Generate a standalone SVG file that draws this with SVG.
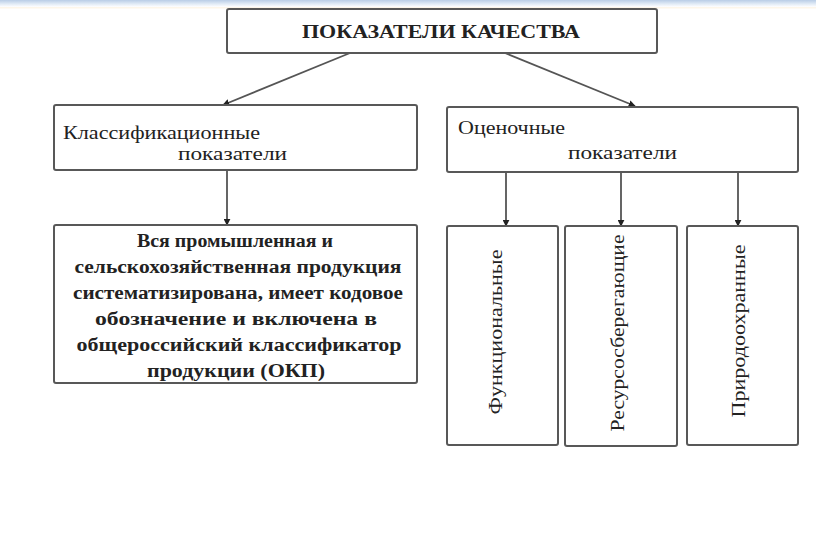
<svg xmlns="http://www.w3.org/2000/svg" width="816" height="541" viewBox="0 0 816 541">
<style>
.box{fill:#fff;stroke:#585858;stroke-width:2}
.con{stroke:#555;stroke-width:1.8;fill:none}
.t{font-family:"Liberation Serif","DejaVu Serif",serif;fill:#222;font-size:18px}
.b{font-weight:bold}
</style>
<defs>
<linearGradient id="band" x1="0" y1="0" x2="0" y2="1">
<stop offset="0" stop-color="#b9cde6"/>
<stop offset="0.6" stop-color="#e4edf7"/>
<stop offset="1" stop-color="#ffffff"/>
</linearGradient>
<marker id="ah" viewBox="0 0 10 10" refX="9" refY="5" markerWidth="7" markerHeight="7" orient="auto" markerUnits="userSpaceOnUse">
<path d="M0,0 L10,5 L0,10 z" fill="#222"/>
</marker>
</defs>
<rect x="0" y="0" width="816" height="541" fill="#fff"/>
<rect x="0" y="0" width="816" height="7" fill="url(#band)"/>
<rect x="0" y="7" width="816" height="1.5" fill="#fdf6ea"/>

<g id="connectors">
<line class="con" x1="350" y1="53" x2="223" y2="105" marker-end="url(#ah)"/>
<line class="con" x1="505" y1="53" x2="635" y2="106" marker-end="url(#ah)"/>
<line class="con" x1="227" y1="170" x2="227" y2="225" marker-end="url(#ah)"/>
<line class="con" x1="506" y1="172" x2="506" y2="226" marker-end="url(#ah)"/>
<line class="con" x1="621" y1="172" x2="621" y2="226" marker-end="url(#ah)"/>
<line class="con" x1="738" y1="172" x2="738" y2="226" marker-end="url(#ah)"/>
</g>

<g id="top">
<rect class="box" x="227" y="9" width="430" height="44" rx="2"/>
<text class="t b" x="441" y="38" text-anchor="middle" font-size="20" fill="#111" textLength="278" lengthAdjust="spacingAndGlyphs">ПОКАЗАТЕЛИ КАЧЕСТВА</text>
</g>

<g id="classif">
<rect class="box" x="54" y="105" width="363" height="65" rx="2"/>
<text class="t" x="63" y="139" textLength="197" lengthAdjust="spacingAndGlyphs">Классификационные</text>
<text class="t" x="178" y="160" textLength="109" lengthAdjust="spacingAndGlyphs">показатели</text>
</g>

<g id="ocen">
<rect class="box" x="447" y="107" width="351" height="65" rx="2"/>
<text class="t" x="458" y="134" textLength="107" lengthAdjust="spacingAndGlyphs">Оценочные</text>
<text class="t" x="568" y="159" textLength="109" lengthAdjust="spacingAndGlyphs">показатели</text>
</g>

<g id="okp">
<rect class="box" x="54" y="225" width="363" height="158" rx="2"/>
<g class="t b" text-anchor="middle" font-size="19">
<text x="235" y="247" textLength="196" lengthAdjust="spacingAndGlyphs">Вся промышленная и</text>
<text x="238" y="273" textLength="327" lengthAdjust="spacingAndGlyphs">сельскохозяйственная продукция</text>
<text x="238" y="299" textLength="330" lengthAdjust="spacingAndGlyphs">систематизирована, имеет кодовое</text>
<text x="236" y="325" textLength="282" lengthAdjust="spacingAndGlyphs">обозначение и включена в</text>
<text x="239" y="351" textLength="325" lengthAdjust="spacingAndGlyphs">общероссийский классификатор</text>
<text x="236" y="377" textLength="178" lengthAdjust="spacingAndGlyphs">продукции (ОКП)</text>
</g>
</g>

<g id="func">
<rect class="box" x="447" y="226" width="111" height="219" rx="2"/>
<text class="t" font-size="19" transform="translate(502,332) rotate(-90)" text-anchor="middle" textLength="165" lengthAdjust="spacingAndGlyphs">Функциональные</text>
</g>

<g id="resurs">
<rect class="box" x="565" y="226" width="112" height="220" rx="2"/>
<text class="t" font-size="19" transform="translate(624,333) rotate(-90)" text-anchor="middle" textLength="197" lengthAdjust="spacingAndGlyphs">Ресурсосберегающие</text>
</g>

<g id="prirod">
<rect class="box" x="687" y="226" width="111" height="219" rx="2"/>
<text class="t" font-size="19" transform="translate(745,331) rotate(-90)" text-anchor="middle" textLength="173" lengthAdjust="spacingAndGlyphs">Природоохранные</text>
</g>
</svg>
